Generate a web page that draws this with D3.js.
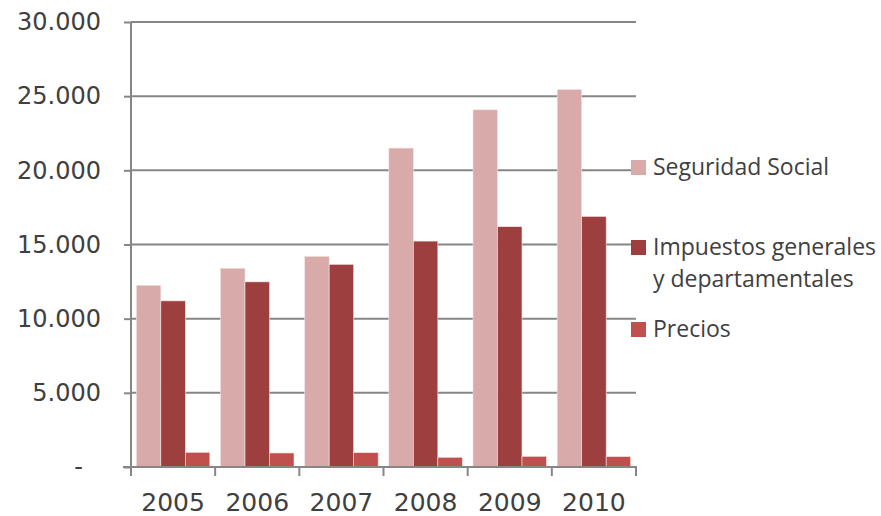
<!DOCTYPE html>
<html>
<head>
<meta charset="utf-8">
<script src="https://cdn.jsdelivr.net/npm/d3@7"></script>
<style>
  html, body { margin: 0; padding: 0; background: #fff; }
  svg { display: block; }
</style>
</head>
<body>
<script>
// Recaudación por fuente, 2005–2010
const years = ["2005", "2006", "2007", "2008", "2009", "2010"];
const seriesNames = ["Seguridad Social", "Impuestos generales y departamentales", "Precios"];
const seguridadSocial = [12250, 13400, 14200, 21500, 24080, 25450];
const impuestos = [11200, 12480, 13660, 15230, 16200, 16890];
const precios = [990, 945, 965, 655, 720, 700];
const yTicks = [0, 5000, 10000, 15000, 20000, 25000, 30000];
const colors = ["#D9AAAA", "#9E3F3F", "#C0504D"];

const W = 881, H = 516;
const margin = { left: 131, right: 245, top: 22, bottom: 49 };
const plotW = 636 - margin.left;
const plotH = 467 - margin.top;

const svg = d3.select("body").append("svg").attr("width", W).attr("height", H);
const g = svg.append("g").attr("transform", `translate(${margin.left},${margin.top})`);

const x0 = d3.scaleBand().domain(years).range([0, plotW]).paddingInner(0.127).paddingOuter(0.0635);
const x1 = d3.scaleBand().domain(d3.range(3)).range([0, x0.bandwidth()]);
const y = d3.scaleLinear().domain([0, 30000]).range([plotH, 0]);

const fmt = v => v === 0 ? "-" : d3.format(",")(v).replace(/,/g, ".");

// horizontal gridlines
g.selectAll("line.grid").data(yTicks.filter(v => v > 0)).join("line")
  .attr("class", "grid")
  .attr("x1", 0).attr("x2", plotW)
  .attr("y1", d => y(d)).attr("y2", d => y(d))
  .attr("stroke", "#868686").attr("stroke-width", 2);

// bars
const table = years.map((yr, i) => ({ yr, vals: [seguridadSocial[i], impuestos[i], precios[i]] }));
const groups = g.selectAll("g.year").data(table).join("g")
  .attr("class", "year")
  .attr("transform", d => `translate(${x0(d.yr)},0)`);
groups.selectAll("rect").data(d => d.vals.map((v, k) => ({ v, k }))).join("rect")
  .attr("x", d => x1(d.k))
  .attr("width", x1.bandwidth())
  .attr("y", d => y(d.v))
  .attr("height", d => y(0) - y(d.v))
  .attr("fill", d => colors[d.k])
  .attr("stroke", "#f3e3e3").attr("stroke-width", 0.6);

// y axis
const yAxis = g.append("g")
  .call(d3.axisLeft(y).tickValues(yTicks).tickSize(7).tickPadding(23).tickFormat(fmt));
yAxis.select(".domain").attr("stroke", "#868686").attr("stroke-width", 2).attr("d", `M0,${plotH}V0`);
yAxis.selectAll(".tick line").attr("stroke", "#868686").attr("stroke-width", 2);
yAxis.selectAll(".tick text")
  .attr("fill", "#404040").style("font-family", "DejaVu Sans").style("font-size", "24px")
  .attr("dx", d => d === 0 ? -18 : 0);

// x axis
const xAxis = g.append("g").attr("transform", `translate(0,${plotH})`)
  .call(d3.axisBottom(x0).tickSize(0).tickPadding(26));
xAxis.select(".domain").attr("stroke", "#868686").attr("stroke-width", 2).attr("d", `M-8,0H${plotW + 1}`);
xAxis.selectAll(".tick text")
  .attr("fill", "#404040").style("font-family", "DejaVu Sans").style("font-size", "25px");
// category separators
const bounds = d3.range(years.length + 1).map(i => i * plotW / years.length);
xAxis.selectAll("line.sep").data(bounds).join("line")
  .attr("class", "sep")
  .attr("x1", d => d).attr("x2", d => d)
  .attr("y1", 0).attr("y2", 9)
  .attr("stroke", "#868686").attr("stroke-width", 2);

// legend
const legendItems = [
  { lines: ["Seguridad Social"], y: 160, c: colors[0] },
  { lines: ["Impuestos generales", "y departamentales"], y: 240, c: colors[1] },
  { lines: ["Precios"], y: 322, c: colors[2] }
];
const lg = svg.append("g");
legendItems.forEach(item => {
  lg.append("rect").attr("x", 631).attr("y", item.y).attr("width", 15).attr("height", 15).attr("fill", item.c);
  const t = lg.append("text").attr("x", 653).attr("y", item.y + 15)
    .attr("fill", "#404040").style("font-family", "Open Sans").style("font-size", "23px");
  item.lines.forEach((ln, i) => {
    t.append("tspan").attr("x", 653).attr("dy", i === 0 ? 0 : 32).text(ln);
  });
});
</script>
</body>
</html>
